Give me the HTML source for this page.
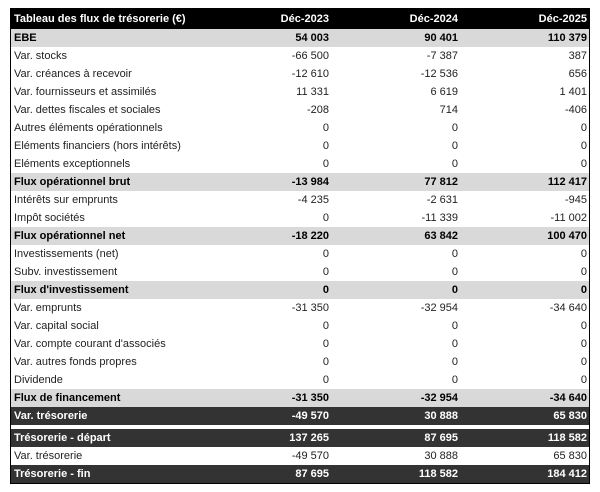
<!DOCTYPE html><html><head><style>
body{margin:0;background:#fff;width:600px;height:492px;position:relative;font-family:"Liberation Sans",sans-serif;font-size:11px;color:#222}
.t{position:absolute;left:10px;top:8px;width:578px;height:474px;border:1px solid #000;box-sizing:content-box}
.r{position:absolute;left:0;width:578px;height:18px;line-height:18px}
.r span{position:absolute;top:0}
.r .a{left:3px}.r .b{right:260px}.r .c{right:131px}.r .d{right:2px}
.g{background:#d9d9d9;font-weight:bold;color:#000}
.k{background:#333;color:#fff;font-weight:bold}
.h{background:#000;color:#fff;font-weight:bold;height:20px;line-height:20px}
</style></head><body><div class="t">
<div class="r h" style="top:0"><span class="a">Tableau des flux de trésorerie (€)</span><span class="b">Déc-2023</span><span class="c">Déc-2024</span><span class="d">Déc-2025</span></div>
<div class="r g" style="top:20px"><span class="a">EBE</span><span class="b">54 003</span><span class="c">90 401</span><span class="d">110 379</span></div>
<div class="r" style="top:38px"><span class="a">Var. stocks</span><span class="b">-66 500</span><span class="c">-7 387</span><span class="d">387</span></div>
<div class="r" style="top:56px"><span class="a">Var. créances à recevoir</span><span class="b">-12 610</span><span class="c">-12 536</span><span class="d">656</span></div>
<div class="r" style="top:74px"><span class="a">Var. fournisseurs et assimilés</span><span class="b">11 331</span><span class="c">6 619</span><span class="d">1 401</span></div>
<div class="r" style="top:92px"><span class="a">Var. dettes fiscales et sociales</span><span class="b">-208</span><span class="c">714</span><span class="d">-406</span></div>
<div class="r" style="top:110px"><span class="a">Autres éléments opérationnels</span><span class="b">0</span><span class="c">0</span><span class="d">0</span></div>
<div class="r" style="top:128px"><span class="a">Eléments financiers (hors intérêts)</span><span class="b">0</span><span class="c">0</span><span class="d">0</span></div>
<div class="r" style="top:146px"><span class="a">Eléments exceptionnels</span><span class="b">0</span><span class="c">0</span><span class="d">0</span></div>
<div class="r g" style="top:164px"><span class="a">Flux opérationnel brut</span><span class="b">-13 984</span><span class="c">77 812</span><span class="d">112 417</span></div>
<div class="r" style="top:182px"><span class="a">Intérêts sur emprunts</span><span class="b">-4 235</span><span class="c">-2 631</span><span class="d">-945</span></div>
<div class="r" style="top:200px"><span class="a">Impôt sociétés</span><span class="b">0</span><span class="c">-11 339</span><span class="d">-11 002</span></div>
<div class="r g" style="top:218px"><span class="a">Flux opérationnel net</span><span class="b">-18 220</span><span class="c">63 842</span><span class="d">100 470</span></div>
<div class="r" style="top:236px"><span class="a">Investissements (net)</span><span class="b">0</span><span class="c">0</span><span class="d">0</span></div>
<div class="r" style="top:254px"><span class="a">Subv. investissement</span><span class="b">0</span><span class="c">0</span><span class="d">0</span></div>
<div class="r g" style="top:272px"><span class="a">Flux d'investissement</span><span class="b">0</span><span class="c">0</span><span class="d">0</span></div>
<div class="r" style="top:290px"><span class="a">Var. emprunts</span><span class="b">-31 350</span><span class="c">-32 954</span><span class="d">-34 640</span></div>
<div class="r" style="top:308px"><span class="a">Var. capital social</span><span class="b">0</span><span class="c">0</span><span class="d">0</span></div>
<div class="r" style="top:326px"><span class="a">Var. compte courant d'associés</span><span class="b">0</span><span class="c">0</span><span class="d">0</span></div>
<div class="r" style="top:344px"><span class="a">Var. autres fonds propres</span><span class="b">0</span><span class="c">0</span><span class="d">0</span></div>
<div class="r" style="top:362px"><span class="a">Dividende</span><span class="b">0</span><span class="c">0</span><span class="d">0</span></div>
<div class="r g" style="top:380px"><span class="a">Flux de financement</span><span class="b">-31 350</span><span class="c">-32 954</span><span class="d">-34 640</span></div>
<div class="r k" style="top:398px"><span class="a">Var. trésorerie</span><span class="b">-49 570</span><span class="c">30 888</span><span class="d">65 830</span></div>
<div class="r k" style="top:420px"><span class="a">Trésorerie - départ</span><span class="b">137 265</span><span class="c">87 695</span><span class="d">118 582</span></div>
<div class="r" style="top:438px"><span class="a">Var. trésorerie</span><span class="b">-49 570</span><span class="c">30 888</span><span class="d">65 830</span></div>
<div class="r k" style="top:456px"><span class="a">Trésorerie - fin</span><span class="b">87 695</span><span class="c">118 582</span><span class="d">184 412</span></div>
</div></body></html>
